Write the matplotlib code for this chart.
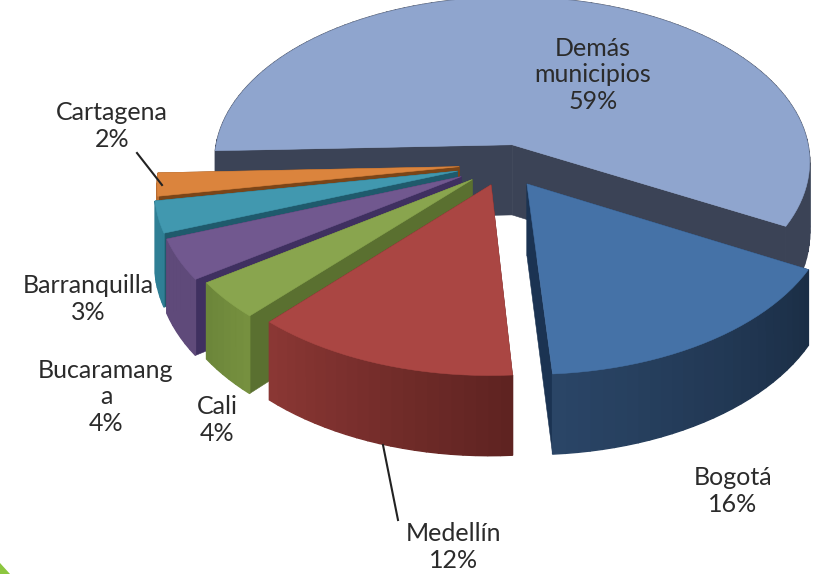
import numpy as np
import matplotlib
matplotlib.use("Agg")
import matplotlib.pyplot as plt
from matplotlib.patches import Polygon
from matplotlib.colors import to_rgb

names = ["Demás\nmunicipios", "Bogotá", "Medellín", "Cali", "Bucaramang\na", "Barranquilla", "Cartagena"]
values = [59, 16, 12, 4, 4, 3, 2]
# angle shares are the sizes
shares = [58.5, 16.0, 12.8, 3.6, 3.9, 3.0, 2.2]
explode = [0.12, 0.14, 0.13, 0.14, 0.16, 0.16, 0.15]
top_cols = ["#8FA5CE", "#4572A7", "#AA4643", "#89A54E", "#71588F", "#4198AF", "#DB843D"]
rim_a = ["#3B4356", "#2A4566", "#8A3734", "#76903F", "#5F4A7A", "#2F7F95", "#B86C30"]
rim_b = ["#3B4356", "#1B2E46", "#5F2321", "#6C863A", "#5F4A7A", "#2F7F95", "#B86C30"]
cut_cols = ["#3B4356", "#1B3352", "#5F2321", "#5A7030", "#3F3060", "#1F5A6C", "#7A4518"]

START = 118.5          # clockwise from the back of the pie
CX, CY = 504.0, 164.0
F, G, D = 2920.0, 1625.0, 9.75
DEPTH = 71.0


def project(X, Y, drop=0.0):
    s = D / (D - Y)
    return CX + F / D * X * s, CY + G / D * Y * s + drop * DEPTH * s


fig = plt.figure(figsize=(8.15, 5.74), dpi=100)
ax = fig.add_axes([0, 0, 1, 1])
ax.set_xlim(0, 815)
ax.set_ylim(574, 0)
ax.axis("off")


def poly(xy, color, z, lw=0.4):
    ax.add_patch(Polygon(xy, closed=True, facecolor=color, edgecolor=color, lw=lw, zorder=z))


# slice angles
edges = {}
a = START
for i in [1, 2, 3, 4, 5, 6, 0]:
    sweep = shares[i] * 3.6
    edges[i] = (a, a + sweep)
    a += sweep

order = [0, 6, 5, 4, 3, 1, 2]
for z, i in enumerate(order):
    t0, t1 = edges[i]
    mid = np.radians((t0 + t1) / 2)
    ex, ey = explode[i] * np.sin(mid), -explode[i] * np.cos(mid)
    th = np.radians(np.linspace(t0, t1, max(8, int(t1 - t0) // 2)))
    X, Y = ex + np.sin(th), ey - np.cos(th)
    base = z * 10

    # cut faces
    for Xe, Ye in ((X[0], Y[0]), (X[-1], Y[-1])):
        pts = [project(ex, ey), project(Xe, Ye), project(Xe, Ye, 1), project(ex, ey, 1)]
        poly(pts, cut_cols[i], base)

    # rim, shaded along the arc
    ca, cb = np.array(to_rgb(rim_a[i])), np.array(to_rgb(rim_b[i]))
    n = len(th)
    for k in range(n - 1):
        f = k / (n - 2)
        if i in (1, 2):
            f = 1 - f
        col = ca * (1 - f) + cb * f
        pts = [project(X[k], Y[k]), project(X[k + 1], Y[k + 1]),
               project(X[k + 1], Y[k + 1], 1), project(X[k], Y[k], 1)]
        poly(pts, col, base + 1, lw=1.0)

    # top surface
    top = [project(ex, ey)] + [project(x, y) for x, y in zip(X, Y)]
    poly(top, top_cols[i], base + 2)

# labels
label_pos = {0: (593, 75), 1: (733, 491), 2: (454, 547), 3: (217, 420),
             4: (106, 397), 5: (88, 299), 6: (112, 126)}
for i, (lx, ly) in label_pos.items():
    ax.text(lx, ly, f"{names[i]}\n{values[i]}%", ha="center", va="center",
            family="Lato", fontsize=18, color="#2b2b2b", linespacing=1.2, zorder=200)

# leader lines
ax.plot([137, 162], [153, 185], color="#222222", lw=1.5, zorder=150)
ax.plot([383, 398], [445, 520], color="#222222", lw=1.5, zorder=150)

# corner of the page decoration
ax.add_patch(Polygon([(0, 563), (10, 574), (0, 574)], closed=True, facecolor="#8CC63F",
                     edgecolor="none", zorder=1))

fig.savefig("out.png", dpi=100, facecolor="white")
